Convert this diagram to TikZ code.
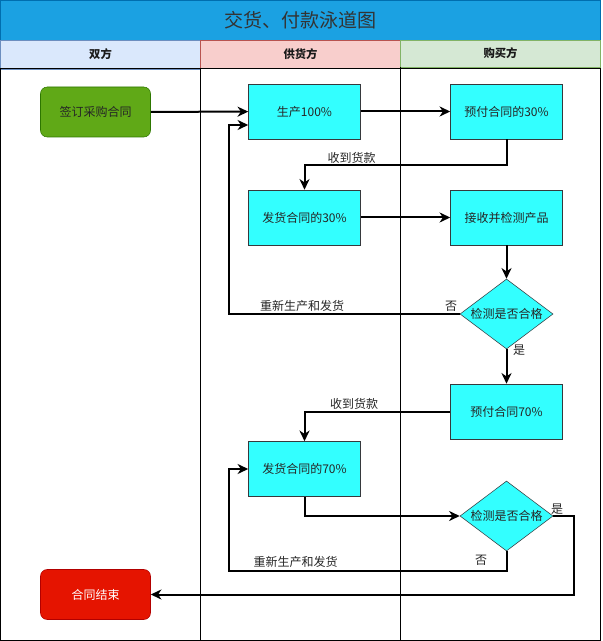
\documentclass[tikz,border=0pt]{standalone}
\usepackage{fontspec}
\setmainfont{Noto Sans CJK SC}
\usetikzlibrary{arrows.meta,shapes.geometric}

\definecolor{titleblue}{HTML}{1BA1E2}
\definecolor{titleline}{HTML}{006EAF}
\definecolor{laneblue}{HTML}{DAE8FC}
\definecolor{laneblueline}{HTML}{6C8EBF}
\definecolor{lanered}{HTML}{F8CECC}
\definecolor{laneredline}{HTML}{B85450}
\definecolor{lanegreen}{HTML}{D5E8D4}
\definecolor{lanegreenline}{HTML}{82B366}
\definecolor{boxcyan}{HTML}{33FFFF}
\definecolor{boxline}{HTML}{36393D}
\definecolor{startgreen}{HTML}{60A917}
\definecolor{startline}{HTML}{2D7600}
\definecolor{stopred}{HTML}{E51400}
\definecolor{stopline}{HTML}{B20000}

\tikzset{
	task/.style={draw=boxline, fill=boxcyan, minimum width=84pt, minimum height=41.25pt, font=\fontsize{9}{11}\selectfont, text=black!85},
	check/.style={diamond, draw=boxline, fill=boxcyan, inner sep=0pt, aspect=1.33, minimum width=69.75pt, minimum height=52.5pt, font=\fontsize{9}{11}\selectfont, text=black!85},
	terminal/.style={rounded corners=5pt, minimum width=82.5pt, minimum height=37.5pt, font=\fontsize{9}{11}\selectfont},
	flow/.style={line width=1.5pt, -{Stealth[length=8pt,width=7.5pt,inset=2.5pt]}},
	lbl/.style={font=\fontsize{9}{11}\selectfont, text=black!85, inner sep=1pt},
	lanehead/.style={font=\bfseries\fontsize{8.5}{10}\selectfont, text=black!90}
}

\begin{document}
\begin{tikzpicture}[x=0.75pt, y=-0.75pt]
	\useasboundingbox (0,0) rectangle (602,641);
	% title and lane headers
	\draw[titleline, fill=titleblue] (0.5,0.5) rectangle (600.5,40);
	\node[font=\fontsize{14.3}{17}\selectfont, text=black!80] (title) at (300.5,20) {交货、付款泳道图};
	\draw[laneblueline, fill=laneblue] (0.5,40) rectangle (200.5,69);
	\draw[laneredline, fill=lanered] (200.5,40) rectangle (400.5,68);
	\draw[lanegreenline, fill=lanegreen] (400.5,40) rectangle (600.5,67);
	\node[lanehead] (hboth) at (100.5,54.5) {双方};
	\node[lanehead] (hsup) at (300.5,54) {供货方};
	\node[lanehead] (hbuy) at (500.5,53.5) {购买方};
	% lane bodies
	\draw[line width=0.75pt] (0.5,69) rectangle (600.5,640);
	\draw[line width=0.75pt] (200.5,69) -- (200.5,640);
	\draw[line width=0.75pt] (400.5,67) -- (400.5,640);

	\node[terminal, draw=startline, fill=startgreen, text=black!85] (sign) at (95.5,112) {签订采购合同};
	\node[task] (prod) at (304.5,111.5) {生产100\%};
	\node[task] (pre30) at (506.5,111.5) {预付合同的30\%};
	\node[task] (ship30) at (304.5,217.5) {发货合同的30\%};
	\node[task] (recv) at (506.5,217.5) {接收并检测产品};
	\node[check] (chk1) at (506.5,314) {检测是否合格};
	\node[task] (pre70) at (506.5,411.5) {预付合同70\%};
	\node[task] (ship70) at (304.5,469) {发货合同的70\%};
	\node[check] (chk2) at (506.5,516) {检测是否合格};
	\node[terminal, draw=stopline, fill=stopred, text=white] (finish) at (95.5,594.5) {合同结束};

	\coordinate (loopa) at (228.5,314);
	\coordinate (loopb) at (228.5,571);
	\coordinate (yesb) at (573.5,516);

	\draw[flow] (sign) -- (prod);
	\draw[flow] (prod) -- (pre30);
	\draw[flow] (pre30.south) |- (ship30.north |- 0,165) -- (ship30.north);
	\draw[flow] (ship30) -- (recv);
	\draw[flow] (recv) -- (chk1);
	\draw[flow] (chk1.west) -- (loopa) |- (prod.west |- 0,125);
	\draw[flow] (chk1) -- (pre70);
	\draw[flow] (pre70.west) -| (ship70.north);
	\draw[flow] (ship70.south) |- (chk2.west);
	\draw[flow] (chk2.south) |- (loopb) |- (ship70.west);
	\draw[flow] (chk2.east) -- (yesb) |- (finish.east);

	\node[lbl] (paid1) at (351.5,158) {收到货款};
	\node[lbl] (redo1) at (302,306) {重新生产和发货};
	\node[lbl] (no1) at (451,306) {否};
	\node[lbl] (yes1) at (519,350) {是};
	\node[lbl] (paid2) at (354,404) {收到货款};
	\node[lbl] (redo2) at (295.5,562) {重新生产和发货};
	\node[lbl] (no2) at (481,560) {否};
	\node[lbl] (yes2) at (557,509) {是};
\end{tikzpicture}
\end{document}
